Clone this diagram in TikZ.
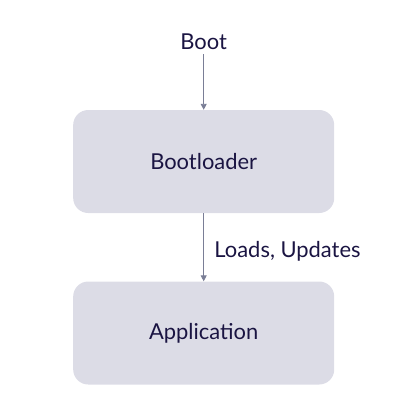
\documentclass[tikz,border=0pt]{standalone}
\usepackage{fontspec}
\setmainfont{Lato}
\usetikzlibrary{arrows.meta}
\definecolor{boxfill}{HTML}{DCDCE6}
\definecolor{txt}{HTML}{1A1442}
\definecolor{edge}{HTML}{7A7E96}
\begin{document}
\begin{tikzpicture}[x=1bp,y=-1bp,
  blk/.style={draw=none,fill=boxfill,rounded corners=15bp,minimum width=261bp,minimum height=103bp,inner sep=0pt,text=txt,font=\fontsize{22}{24}\selectfont},
  lbl/.style={text=txt,font=\fontsize{22}{24}\selectfont,inner sep=0pt},
  conn/.style={draw=edge,line width=0.9bp,-{Triangle[length=6bp,width=6bp]}}]
\useasboundingbox (0,0) rectangle (416,409);
\node[lbl] (boot) at (203.7,42) {Boot};
\node[blk] (bl) at (203.7,161.5) {Bootloader};
\node[blk] (app) at (203.7,333) {Application};
\coordinate (bootend) at (203.7,54);
\draw[conn] (bootend) -- (bl.north);
\draw[conn] (bl.south) -- (app.north) node[lbl,midway,anchor=west,xshift=10.3bp,yshift=-4bp] {Loads, Updates};
\end{tikzpicture}
\end{document}
